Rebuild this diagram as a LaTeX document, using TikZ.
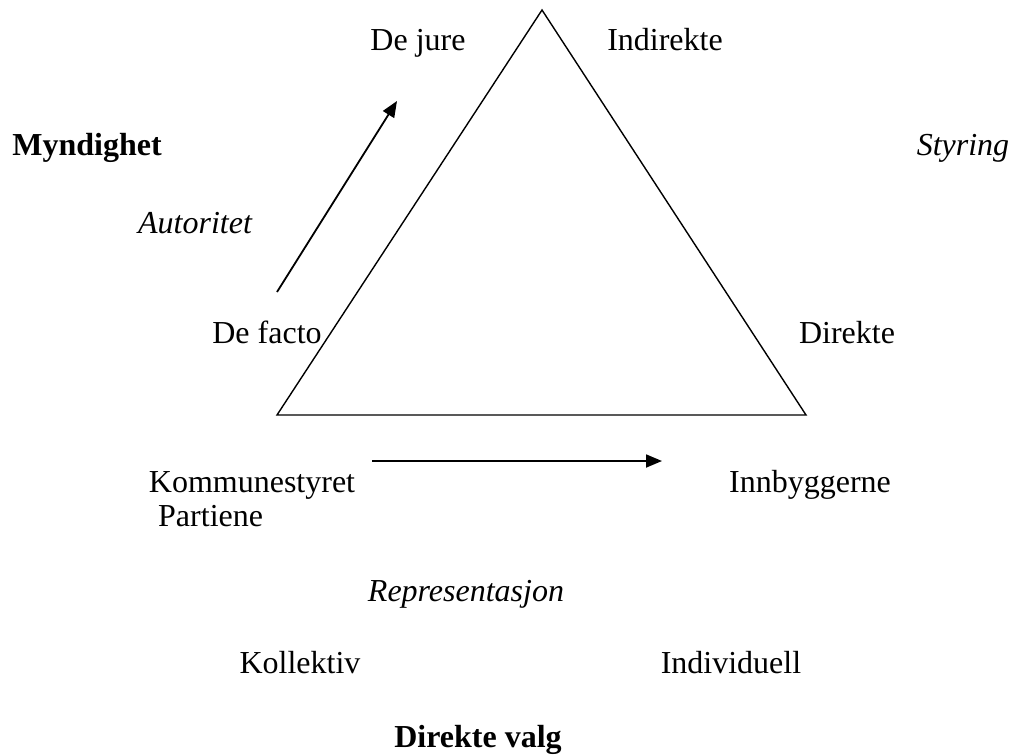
\documentclass[tikz,border=0pt]{standalone}
\usepackage{fontspec}
\setmainfont{Liberation Serif}
\usetikzlibrary{arrows.meta}
\begin{document}
\begin{tikzpicture}[x=1pt,y=-1pt,
  lbl/.style={inner sep=0pt,anchor=base,font=\fontsize{32}{36}\selectfont},
  tri/.style={line width=1.4pt,line join=miter},
  arr/.style={line width=1.8pt,-{Triangle[length=16pt,width=13pt]}}]
\useasboundingbox (0,0) rectangle (1016,755);
\coordinate (A) at (542,10);
\coordinate (B) at (277,415);
\coordinate (C) at (806,415);
\draw[tri] (A) -- (B) -- (C) -- cycle;
\coordinate (a1s) at (277,292);
\coordinate (a1e) at (397,101);
\draw[arr] (a1s) -- (a1e);
\coordinate (a2s) at (372,461);
\coordinate (a2e) at (662,461);
\draw[arr] (a2s) -- (a2e);
\node[lbl] (dejure) at (418,50) {De jure};
\node[lbl] (indirekte) at (665,50) {Indirekte};
\node[lbl,font=\fontsize{32}{36}\selectfont\bfseries] (myndighet) at (87,155) {Myndighet};
\node[lbl,font=\fontsize{32}{36}\selectfont\itshape] (styring) at (963,155) {Styring};
\node[lbl,font=\fontsize{32}{36}\selectfont\itshape] (autoritet) at (195,233) {Autoritet};
\node[lbl] (defacto) at (267,343) {De facto};
\node[lbl] (direkte) at (847,343) {Direkte};
\node[lbl] (kommunestyret) at (252,492) {Kommunestyret};
\node[lbl,anchor=base west] (partiene) at (158,526) {Partiene};
\node[lbl] (innbyggerne) at (810,492) {Innbyggerne};
\node[lbl,font=\fontsize{32}{36}\selectfont\itshape] (representasjon) at (466,601) {Representasjon};
\node[lbl] (kollektiv) at (300,673) {Kollektiv};
\node[lbl] (individuell) at (731,673) {Individuell};
\node[lbl,font=\fontsize{32}{36}\selectfont\bfseries] (direktevalg) at (478,747) {Direkte valg};
\end{tikzpicture}
\end{document}
